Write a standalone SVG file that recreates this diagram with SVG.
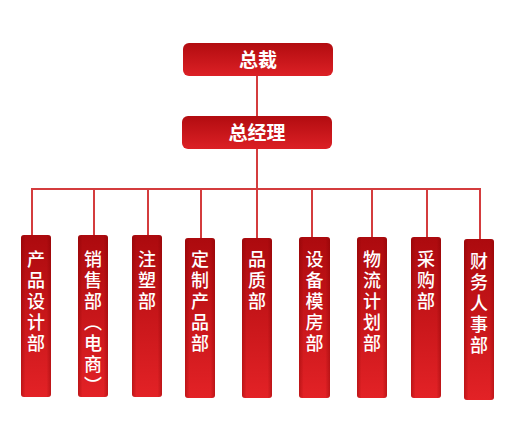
<svg xmlns="http://www.w3.org/2000/svg" width="519" height="422" viewBox="0 0 519 422">
<style>
.box{fill:url(#gBox);}
.col{fill:url(#gCol);}
.edge{fill:url(#gEdge);}
.ln{stroke:#d43c3e;stroke-width:2;fill:none;}
.t{fill:#fff;font-family:"Noto Sans CJK SC","Noto Sans",sans-serif;}
.th{font-size:19px;text-anchor:middle;font-weight:bold;}
.tv{font-size:18px;writing-mode:vertical-rl;letter-spacing:3px;font-weight:500;}
</style>
<defs>
<linearGradient id="gBox" x1="0" y1="0" x2="0" y2="1">
<stop offset="0" stop-color="#b20c10"/>
<stop offset="1" stop-color="#dc2025"/>
</linearGradient>
<linearGradient id="gCol" x1="0" y1="0" x2="0" y2="1">
<stop offset="0" stop-color="#ac0a0e"/>
<stop offset="1" stop-color="#e32226"/>
</linearGradient>
<linearGradient id="gEdge" x1="0" y1="0" x2="1" y2="0">
<stop offset="0" stop-color="#7a0000" stop-opacity="0.35"/>
<stop offset="0.15" stop-color="#7a0000" stop-opacity="0"/>
<stop offset="0.85" stop-color="#7a0000" stop-opacity="0"/>
<stop offset="1" stop-color="#7a0000" stop-opacity="0.35"/>
</linearGradient>
</defs>
<g id="connectors">
<line class="ln" x1="257" y1="76" x2="257" y2="117"/>
<line class="ln" x1="257" y1="149" x2="257" y2="189"/>
<line class="ln" x1="31" y1="189" x2="481" y2="189"/>
<line class="ln" x1="32" y1="189" x2="32" y2="236"/>
<line class="ln" x1="94" y1="189" x2="94" y2="236"/>
<line class="ln" x1="148" y1="189" x2="148" y2="236"/>
<line class="ln" x1="201" y1="189" x2="201" y2="239"/>
<line class="ln" x1="257" y1="189" x2="257" y2="239"/>
<line class="ln" x1="312" y1="189" x2="312" y2="238"/>
<line class="ln" x1="372" y1="189" x2="372" y2="238"/>
<line class="ln" x1="427" y1="189" x2="427" y2="238"/>
<line class="ln" x1="480" y1="189" x2="480" y2="240"/>
</g>
<g id="n-zongcai">
<rect class="box" x="183" y="43" width="150" height="33" rx="6"/>
<text class="t th" x="258" y="67">总裁</text>
</g>
<g id="n-zongjingli">
<rect class="box" x="182" y="116" width="150" height="33" rx="6"/>
<text class="t th" x="257" y="140">总经理</text>
</g>
<g id="n-1">
<rect class="col" x="21" y="235" width="30" height="162" rx="3"/>
<rect class="edge" x="21" y="235" width="30" height="162" rx="3"/>
<text class="t tv" x="36" y="250">产品设计部</text>
</g>
<g id="n-2">
<rect class="col" x="78" y="235" width="30" height="162" rx="3"/>
<rect class="edge" x="78" y="235" width="30" height="162" rx="3"/>
<text class="t tv" x="93" y="250">销售部（电商）</text>
</g>
<g id="n-3">
<rect class="col" x="132" y="235" width="30" height="162" rx="3"/>
<rect class="edge" x="132" y="235" width="30" height="162" rx="3"/>
<text class="t tv" x="147" y="250">注塑部</text>
</g>
<g id="n-4">
<rect class="col" x="185" y="238" width="30" height="160" rx="3"/>
<rect class="edge" x="185" y="238" width="30" height="160" rx="3"/>
<text class="t tv" x="200" y="250">定制产品部</text>
</g>
<g id="n-5">
<rect class="col" x="242" y="238" width="30" height="160" rx="3"/>
<rect class="edge" x="242" y="238" width="30" height="160" rx="3"/>
<text class="t tv" x="257" y="250">品质部</text>
</g>
<g id="n-6">
<rect class="col" x="299" y="237" width="31" height="161" rx="3"/>
<rect class="edge" x="299" y="237" width="31" height="161" rx="3"/>
<text class="t tv" x="314.5" y="250">设备模房部</text>
</g>
<g id="n-7">
<rect class="col" x="357" y="237" width="30" height="161" rx="3"/>
<rect class="edge" x="357" y="237" width="30" height="161" rx="3"/>
<text class="t tv" x="372" y="250">物流计划部</text>
</g>
<g id="n-8">
<rect class="col" x="411" y="237" width="30" height="161" rx="3"/>
<rect class="edge" x="411" y="237" width="30" height="161" rx="3"/>
<text class="t tv" x="426" y="250">采购部</text>
</g>
<g id="n-9">
<rect class="col" x="464" y="239" width="30" height="161" rx="3"/>
<rect class="edge" x="464" y="239" width="30" height="161" rx="3"/>
<text class="t tv" x="479" y="252">财务人事部</text>
</g>
</svg>
